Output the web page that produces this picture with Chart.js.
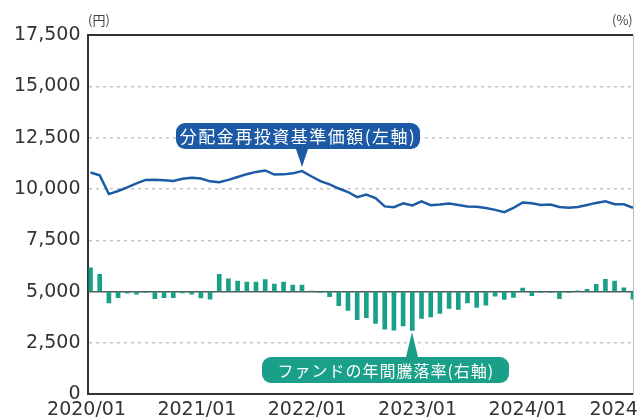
<!DOCTYPE html>
<html lang="ja">
<head>
<meta charset="utf-8">
<script src="https://cdn.jsdelivr.net/npm/chart.js@4.4.1/dist/chart.umd.min.js"></script>
<style>
  html, body { margin: 0; padding: 0; background: #fff; overflow: hidden; }
  #wrap { position: relative; width: 638px; height: 419px; overflow: hidden; }
  #chartBox { position: absolute; left: 0; top: 0; width: 700px; height: 440px; }
  .unit { position: absolute; top: 10px; font-family: "Noto Sans CJK JP"; font-size: 13px; color: #444; }
  .callout {
    position: absolute; height: 26px; line-height: 26px; text-align: center;
    color: #fff; font-family: "Noto Sans CJK JP"; white-space: nowrap; border-radius: 9px;
  }
  #navNote { background: #1c5aa5; width: 244px; font-size: 17px; letter-spacing: 1.5px; }
  #retNote { background: #1aa088; width: 247px; font-size: 16px; letter-spacing: 1px; }
  .tri { position: absolute; width: 0; height: 0; }
  #navTri { border-left: 6px solid transparent; border-right: 6px solid transparent; border-top: 18px solid #1c5aa5; }
  #retTri { border-left: 6px solid transparent; border-right: 6px solid transparent; border-bottom: 25px solid #1aa088; }
</style>
</head>
<body>
<div id="wrap">
  <div id="chartBox"><canvas id="fundChart" width="700" height="440"></canvas></div>
  <div class="unit" style="left:88px">(円)</div>
  <div class="unit" style="left:612px">(%)</div>
  <div id="navTri" class="tri"></div>
  <div id="retTri" class="tri"></div>
  <div id="navNote" class="callout">分配金再投資基準価額(左軸)</div>
  <div id="retNote" class="callout">ファンドの年間騰落率(右軸)</div>
</div>
<script>
// months 2020/01 - 2024/12
const months = [
  '2020/01','2020/02','2020/03','2020/04','2020/05','2020/06','2020/07','2020/08','2020/09','2020/10','2020/11','2020/12',
  '2021/01','2021/02','2021/03','2021/04','2021/05','2021/06','2021/07','2021/08','2021/09','2021/10','2021/11','2021/12',
  '2022/01','2022/02','2022/03','2022/04','2022/05','2022/06','2022/07','2022/08','2022/09','2022/10','2022/11','2022/12',
  '2023/01','2023/02','2023/03','2023/04','2023/05','2023/06','2023/07','2023/08','2023/09','2023/10','2023/11','2023/12',
  '2024/01','2024/02','2024/03','2024/04','2024/05','2024/06','2024/07','2024/08','2024/09','2024/10','2024/11','2024/12'
];

// 分配金再投資基準価額 (円, left axis)
const navValues = [
  10800, 10660, 9750, 9900, 10080, 10270, 10440, 10450, 10420, 10390, 10500, 10550,
  10510, 10370, 10330, 10440, 10580, 10720, 10830, 10900, 10700, 10710, 10760, 10870,
  10620, 10380, 10220, 10020, 9850, 9600, 9730, 9560, 9150, 9110, 9300, 9200,
  9400, 9210, 9240, 9290, 9220, 9150, 9130, 9070, 8980, 8870, 9080, 9340,
  9300, 9220, 9240, 9120, 9080, 9120, 9220, 9320, 9400, 9260, 9250, 9080
];

// ファンドの年間騰落率 (%, right axis)
const returnValues = [
  9.3, 6.7, -4.4, -2.4, -0.6, -1.0, -0.3, -2.8, -2.4, -2.4, -0.5, -1.0,
  -2.5, -3.0, 6.7, 5.0, 4.1, 3.7, 3.7, 4.7, 2.9, 3.7, 2.5, 2.5,
  0.2, -0.3, -2.0, -5.5, -7.3, -11.0, -10.2, -12.4, -14.7, -15.0, -13.4, -15.1,
  -10.5, -9.9, -8.5, -6.6, -7.0, -4.4, -6.2, -5.3, -1.8, -3.1, -2.3, 1.4,
  -1.6, -0.3, -0.3, -2.8, -0.3, 0.3, 0.9, 2.8, 4.8, 4.1, 1.5, -3.0
];

const tickIndexes = [0, 12, 24, 36, 48, 59];
const tickLabels = ['2020/01', '2021/01', '2022/01', '2023/01', '2024/01', '2024/12'];

const navNoteIndex = 23;
const retNoteIndex = 35;

const axisFont = { family: 'DejaVu Sans', size: 19 };

// place the two callouts on their data points
const calloutPlugin = {
  id: 'callouts',
  afterDraw(chart) {
    const xs = chart.scales.x, yl = chart.scales.y, yr = chart.scales.y1;

    const nx = xs.getPixelForValue(navNoteIndex);
    const ny = yl.getPixelForValue(navValues[navNoteIndex]) - 4;
    const navTri = document.getElementById('navTri');
    navTri.style.left = (nx - 6) + 'px';
    navTri.style.top = (ny - 18) + 'px';
    const navNote = document.getElementById('navNote');
    navNote.style.left = (nx - 126) + 'px';
    navNote.style.top = (ny - 18 - 26) + 'px';

    const rx = xs.getPixelForValue(retNoteIndex);
    const ry = yr.getPixelForValue(returnValues[retNoteIndex]) + 2;
    const retTri = document.getElementById('retTri');
    retTri.style.left = (rx - 6) + 'px';
    retTri.style.top = ry + 'px';
    const retNote = document.getElementById('retNote');
    retNote.style.left = (rx - 150) + 'px';
    retNote.style.top = (ry + 25) + 'px';
  }
};

const ctx = document.getElementById('fundChart').getContext('2d');

const myChart = new Chart(ctx, {
  data: {
    datasets: [
      {
        type: 'line',
        label: '分配金再投資基準価額',
        data: navValues.map((v, i) => ({ x: i, y: v })),
        borderColor: '#1d5ba6',
        borderWidth: 2.5,
        pointRadius: 0,
        tension: 0,
        yAxisID: 'y',
        order: 1
      },
      {
        type: 'bar',
        label: 'ファンドの年間騰落率',
        data: returnValues.map((v, i) => ({ x: i, y: v })),
        backgroundColor: '#1aa088',
        barThickness: 4,
        yAxisID: 'y1',
        order: 2
      }
    ]
  },
  options: {
    responsive: false,
    animation: false,
    layout: { padding: { left: 6, top: 35, right: 67, bottom: 15 } },
    plugins: { legend: { display: false }, tooltip: { enabled: false } },
    scales: {
      x: {
        type: 'linear',
        offset: false,
        min: -0.22,
        max: 59,
        afterBuildTicks: axis => { axis.ticks = tickIndexes.map(v => ({ value: v })); },
        ticks: {
          autoSkip: false,
          maxRotation: 0,
          padding: 4,
          labelOffset: -4,
          color: '#333',
          font: axisFont,
          callback: v => tickLabels[tickIndexes.indexOf(v)]
        },
        grid: { display: false, drawTicks: false, offset: false },
        border: { color: '#333', width: 2 }
      },
      y: {
        position: 'left',
        min: 0,
        max: 17500,
        ticks: {
          stepSize: 2500,
          padding: 8,
          color: '#333',
          font: axisFont,
          callback: v => v.toLocaleString('en-US')
        },
        grid: {
          drawTicks: false,
          color: c => c.tick.value === 17500 ? '#333' : c.tick.value === 5000 ? '#555' : c.tick.value === 0 ? 'rgba(0,0,0,0)' : '#c4c4c4',
          lineWidth: c => c.tick.value === 17500 ? 2 : 1.5
        },
        border: {
          color: '#333',
          width: 2,
          dash: c => (c.tick && (c.tick.value === 17500 || c.tick.value === 5000)) ? [] : [3, 4]
        }
      },
      y1: {
        position: 'right',
        min: -40,
        max: 100,
        ticks: { display: false, stepSize: 20 },
        grid: { drawOnChartArea: false, drawTicks: false },
        border: { color: '#bbb', width: 1 }
      }
    }
  },
  plugins: [calloutPlugin]
});
</script>
</body>
</html>
